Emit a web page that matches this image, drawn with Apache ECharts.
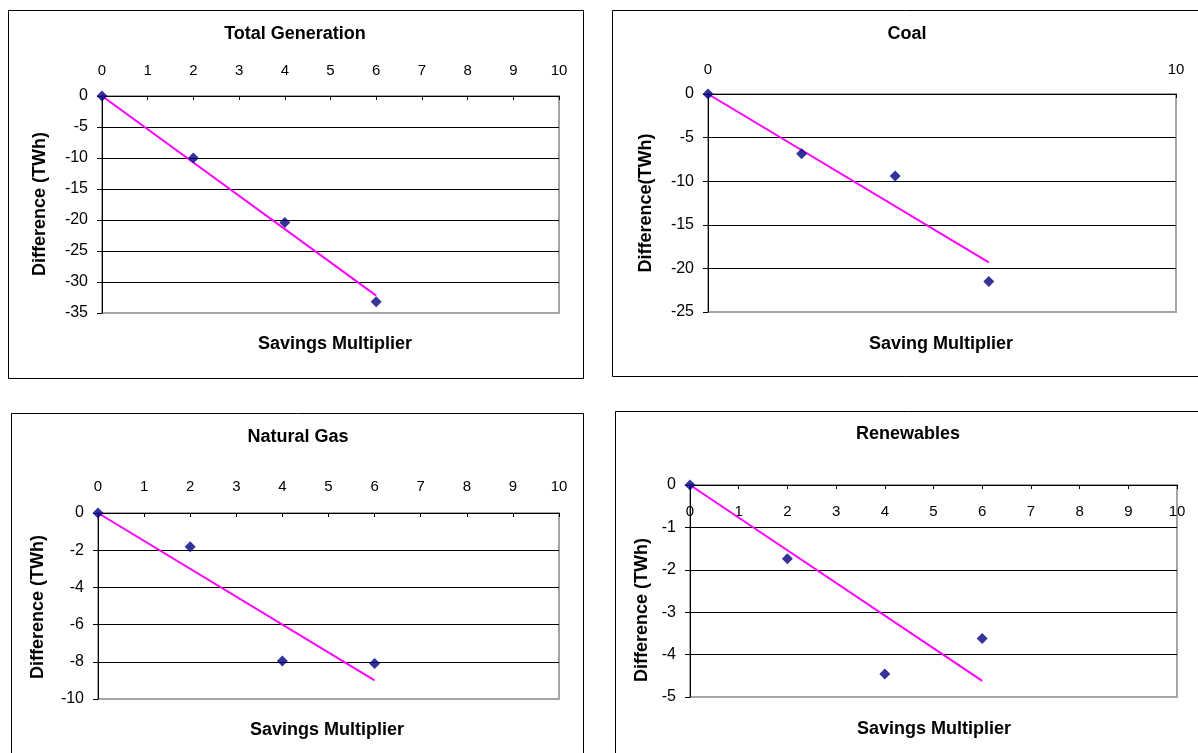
<!DOCTYPE html>
<html><head><meta charset="utf-8">
<script src="https://cdn.jsdelivr.net/npm/echarts@6/dist/echarts.min.js"></script>
<style>html,body{margin:0;padding:0;background:#fff}#c{width:1198px;height:753px}</style>
</head><body><div id="c"></div>
<script>
// ---- data ----
const xValues = [0, 2, 4, 6];
const totalValues = [0, -10, -20.4, -33.2];
const coalValues = [0, -6.85, -9.4, -21.5];
const gasValues = [0, -1.82, -7.96, -8.09];
const renewValues = [0, -1.74, -4.46, -3.62];
const trendX = [0, 6];
const totalTrend = [0, -32.2];
const coalTrend = [0, -19.3];
const gasTrend = [0, -9.0];
const renewTrend = [0, -4.62];
const panelTitles = ['Total Generation', 'Coal', 'Natural Gas', 'Renewables'];
const xTitles = ['Savings Multiplier', 'Saving Multiplier', 'Savings Multiplier', 'Savings Multiplier'];
const yTitles = ['Difference (TWh)', 'Difference(TWh)', 'Difference (TWh)', 'Difference (TWh)'];
const yMins = [-35, -25, -10, -5];
const yIntervals = [5, 5, 2, 1];
const xIntervals = [1, 10, 1, 1];
const seriesValues = [totalValues, coalValues, gasValues, renewValues];
const trendValues = [totalTrend, coalTrend, gasTrend, renewTrend];

// ---- layout ----
const FONT = "'Liberation Sans', Arial, sans-serif";
const layout = [
  {box:[8,10,575,368],  grid:[102,96,457,217], title:[295,34],  xt:[335,344], yt:[40,204],  inside:false, xMargin:18},
  {box:[612,10,600,366],grid:[708,94,468,218], title:[907,34],  xt:[941,344], yt:[646,203], inside:false, xMargin:17},
  {box:[11,413,572,360],grid:[98,513,461,186], title:[298,437], xt:[327,730], yt:[38,607],  inside:false, xMargin:19},
  {box:[615,411,600,360],grid:[690,485,487,212],title:[908,434],xt:[934,729], yt:[642,610], inside:true,  xMargin:19}
];

const grids = [], xAxes = [], yAxes = [], series = [], graphics = [];
layout.forEach((L, i) => {
  grids.push({left:L.grid[0], top:L.grid[1], width:L.grid[2], height:L.grid[3],
    show:true, borderColor:'#a4a4a4', borderWidth:2, backgroundColor:'transparent', containLabel:false});
  xAxes.push({gridIndex:i, type:'value', position:'top', min:0, max:10, interval:xIntervals[i],
    axisLine:{show:true, onZero:false, lineStyle:{color:'#000', width:1}},
    axisTick:{show:true, inside:true, length:4, lineStyle:{color:'#000'}},
    axisLabel:{inside:L.inside, margin:L.xMargin, color:'#000', fontSize:15, fontFamily:FONT},
    splitLine:{show:false}});
  yAxes.push({gridIndex:i, type:'value', min:yMins[i], max:0, interval:yIntervals[i],
    axisLine:{show:true, onZero:false, lineStyle:{color:'#000', width:1}},
    axisTick:{show:true, inside:false, length:5, lineStyle:{color:'#000'}},
    axisLabel:{margin:14, color:'#000', fontSize:16, fontFamily:FONT},
    splitLine:{show:true, showMinLine:false, showMaxLine:false, lineStyle:{color:'#000', width:1}}});
  series.push({type:'line', xAxisIndex:i, yAxisIndex:i, symbol:'none', silent:true,
    data: trendX.map((x, k) => [x, trendValues[i][k]]),
    lineStyle:{color:'#ff00ff', width:2}, z:3});
  series.push({type:'scatter', xAxisIndex:i, yAxisIndex:i, symbol:'diamond', symbolSize:11,
    data: xValues.map((x, k) => [x, seriesValues[i][k]]),
    itemStyle:{color:'#000080'}, z:4});
  graphics.push({type:'rect', shape:{x:L.box[0]+0.5, y:L.box[1]+0.5, width:L.box[2], height:L.box[3]},
    style:{fill:'none', stroke:'#000', lineWidth:1}, z:-10, silent:true});
  graphics.push({type:'text', x:L.title[0], y:L.title[1],
    style:{text:panelTitles[i], align:'center', verticalAlign:'middle', font:'bold 18px ' + FONT, fill:'#000'}});
  graphics.push({type:'text', x:L.xt[0], y:L.xt[1],
    style:{text:xTitles[i], align:'center', verticalAlign:'middle', font:'bold 18px ' + FONT, fill:'#000'}});
  graphics.push({type:'text', x:L.yt[0], y:L.yt[1], rotation:Math.PI/2,
    style:{text:yTitles[i], align:'center', verticalAlign:'middle', font:'bold 18px ' + FONT, fill:'#000'}});
});

const chart = echarts.init(document.getElementById('c'), null, {renderer:'canvas'});
chart.setOption({
  backgroundColor:'#fff',
  animation:false,
  grid:grids, xAxis:xAxes, yAxis:yAxes, series:series,
  graphic:graphics
});
</script></body></html>
